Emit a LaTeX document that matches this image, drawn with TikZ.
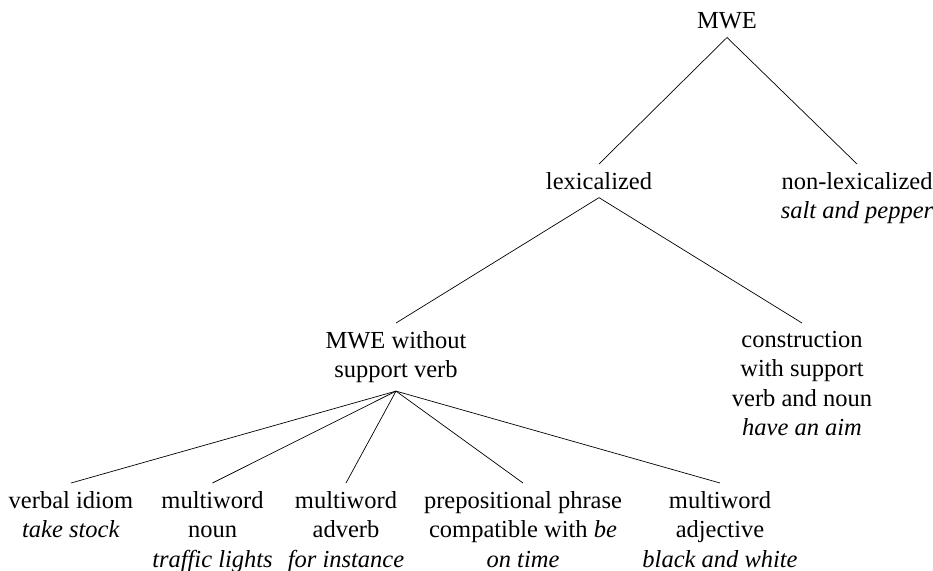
\documentclass[tikz,border=0pt]{standalone}
\usepackage{fontspec}
\setmainfont{Liberation Serif}
\begin{document}
\begin{tikzpicture}[x=1pt,y=-1pt]
\tikzset{
  lbl/.style={font=\fontsize{24.5}{29.5}\selectfont, align=center, inner xsep=2pt, inner ysep=8pt},
  branch/.style={line width=0.7pt, black}
}
\useasboundingbox (0,0) rectangle (933,570);
% nodes
\node[lbl,anchor=south] (mwe) at (727,37.5) {MWE};
\node[lbl,anchor=north] (lex) at (599,164) {lexicalized};
\node[lbl,anchor=north] (nonlex) at (857,164) {non-lexicalized\\\textit{salt and pepper}};
\node[lbl,anchor=north] (mwew) at (396,323) {MWE without\\support verb};
\node[lbl,anchor=north] (constr) at (802,323) {construction\\with support\\verb and noun\\\textit{have an aim}};
\node[lbl,anchor=north] (verbal) at (71,483) {verbal idiom\\\textit{take stock}};
\node[lbl,anchor=north] (noun) at (212.5,483) {multiword\\noun\\\textit{traffic lights}};
\node[lbl,anchor=north] (adverb) at (346,483) {multiword\\adverb\\\textit{for instance}};
\node[lbl,anchor=north] (prep) at (523,483) {prepositional phrase\\compatible with \textit{be}\\\textit{on time}};
\node[lbl,anchor=north] (adj) at (720,483) {multiword\\adjective\\\textit{black and white}};
% connectors
\draw[branch] (mwe.south) -- (lex.north);
\draw[branch] (mwe.south) -- (nonlex.north);
\draw[branch] (lex.south) -- (mwew.north);
\draw[branch] (lex.south) -- (constr.north);
\draw[branch] (mwew.south) -- (verbal.north);
\draw[branch] (mwew.south) -- (noun.north);
\draw[branch] (mwew.south) -- (adverb.north);
\draw[branch] (mwew.south) -- (prep.north);
\draw[branch] (mwew.south) -- (adj.north);
\end{tikzpicture}
\end{document}
